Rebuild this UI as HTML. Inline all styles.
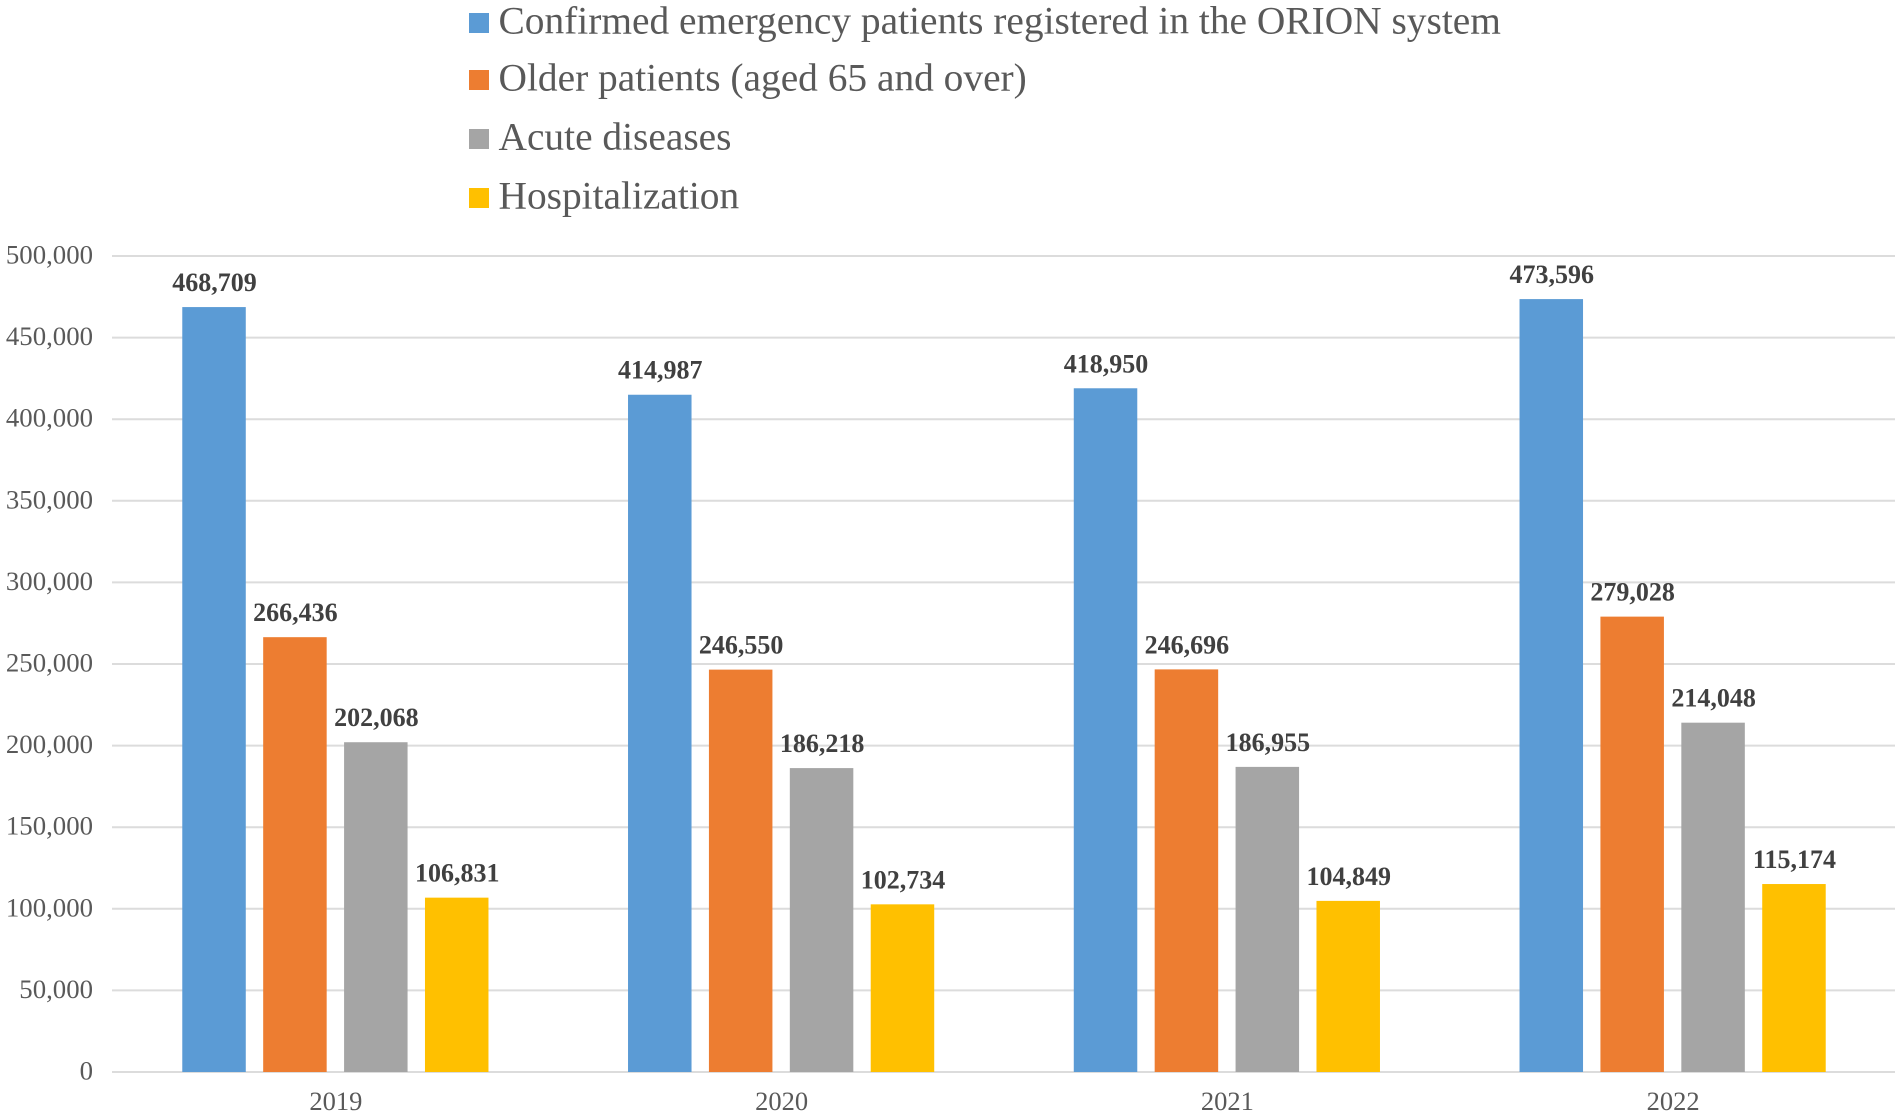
<!DOCTYPE html>
<html lang="en">
<head>
<meta charset="utf-8">
<title>Emergency patients 2019-2022</title>
<style>
html,body{margin:0;padding:0;background:#fff;}
svg{display:block;font-family:"Liberation Serif",serif;}
</style>
</head>
<body>
<svg id="chart" width="1902" height="1117" viewBox="0 0 1902 1117" xmlns="http://www.w3.org/2000/svg">
<g id="legend"></g>
<g id="grid"></g>
<g id="y-axis"></g>
<g id="bars"></g>
<g id="labels"></g>
<g id="x-axis"></g>
</svg>
<script>
const categories = ["2019", "2020", "2021", "2022"];
const seriesNames = ["Confirmed emergency patients registered in the ORION system", "Older patients (aged 65 and over)", "Acute diseases", "Hospitalization"];
const seriesColors = ["#5b9bd5", "#ed7d31", "#a5a5a5", "#ffc000"];
const confirmedValues = [468709, 414987, 418950, 473596];
const olderValues = [266436, 246550, 246696, 279028];
const acuteValues = [202068, 186218, 186955, 214048];
const hospitalizationValues = [106831, 102734, 104849, 115174];
const yTicks = [0, 50000, 100000, 150000, 200000, 250000, 300000, 350000, 400000, 450000, 500000];

const allSeries = [confirmedValues, olderValues, acuteValues, hospitalizationValues];
const NS = "http://www.w3.org/2000/svg";
const plotLeft = 112, plotRight = 1895, plotBottom = 1072, plotTop = 256;
const yMax = 500000;
const barWidth = 63.5, barStep = 80.9;
const fmt = function (v) { return Number(v).toLocaleString("en-US"); };
const y = function (v) { return plotBottom - (v / yMax) * (plotBottom - plotTop); };
const xCenter = function (i) { return plotLeft + (plotRight - plotLeft) * (i + 0.5) / categories.length; };
const xBar = function (i, s) { return xCenter(i) + 0.5 + (s - (allSeries.length - 1) / 2) * barStep - barWidth / 2; };
function make(tag, attrs, parent, text) {
  const el = document.createElementNS(NS, tag);
  for (const k in attrs) el.setAttribute(k, attrs[k]);
  if (text !== undefined) el.textContent = text;
  document.getElementById(parent).appendChild(el);
  return el;
}

yTicks.forEach(function (t) {
  const line = make("line", { x1: plotLeft, x2: plotRight, y1: y(t), y2: y(t), stroke: "#dcdcdc", "stroke-width": 2 }, "grid");
  
  
  const label = make("text", { x: 93, y: y(t) + 7.5, "text-anchor": "end", "font-size": 26.8, fill: "#595959" }, "y-axis", fmt(t));
  
  
});

categories.forEach(function (c, i) {
  const label = make("text", { x: xCenter(i) + 1, y: 1110, "text-anchor": "middle", "font-size": 26.5, fill: "#595959" }, "x-axis", c);
  
  
  allSeries.forEach(function (values, s) {
    const v = values[i];
    const bar = make("rect", { x: xBar(i, s), y: y(v), width: barWidth, height: y(0) - y(v), fill: seriesColors[s] }, "bars");
    
    
    const value = make("text", { x: xBar(i, s) + barWidth / 2 + 0.5, y: y(v) - 16, "text-anchor": "middle", "font-size": 26, "font-weight": "bold", fill: "#404040" }, "labels", fmt(v));
    
    
  });
});

const legendSwatchTops = [13, 70, 129, 188];
seriesNames.forEach(function (name, s) {
  const swatch = make("rect", { x: 469, y: legendSwatchTops[s], width: 20, height: 20, fill: seriesColors[s] }, "legend");
  
  
  const text = make("text", { x: 498.5, y: legendSwatchTops[s] + 20.5, "font-size": 39.4, fill: "#595959" }, "legend", name);
  
  
});
</script>
</body>
</html>
